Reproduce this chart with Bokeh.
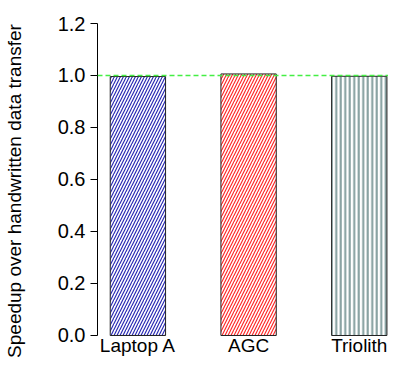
from bokeh.plotting import figure
from bokeh.models import ColumnDataSource, FixedTicker, PrintfTickFormatter, Span, Range1d
from bokeh.core.properties import value
from bokeh.embed import file_html
from bokeh.resources import INLINE

machines = ["Laptop A", "AGC", "Triolith"]
speedup = [0.996, 1.006, 0.997]
hatch_colors = ["#2a2ab4", "#ff2a2a", "#7f9b9b"]
hatch_patterns = ["/", "/", "|"]
hatch_scales = [6, 6, 4.5]
hatch_weights = [1.2, 1.2, 2.0]
y_ticks = [0.0, 0.2, 0.4, 0.6, 0.8, 1.0, 1.2]
baseline = 1.0

xpos = list(range(len(machines)))
src = ColumnDataSource(dict(x=xpos, top=speedup, hc=hatch_colors, hp=hatch_patterns,
                            hs=hatch_scales, hw=hatch_weights, name=machines,
                            zero=[0.0] * len(machines)))

p = figure(x_range=Range1d(-0.365, 2.264), y_range=Range1d(-0.0885, 1.2), width=388, height=358,
           output_backend="svg", toolbar_location=None,
           min_border_left=89, min_border_top=23, min_border_right=0, min_border_bottom=0)

p.vbar(x="x", top="top", bottom=0, width=0.5, source=src,
       fill_color="white", line_color="#222222", line_width=1,
       hatch_pattern="hp", hatch_color="hc", hatch_scale="hs", hatch_weight="hw")

p.add_layout(Span(location=baseline, dimension="width", line_color="#44ee44",
                  line_dash="5 3", line_width=1.5))

# category labels under the bars
p.text(x="x", y="zero", text="name", source=src, text_align="center", text_baseline="top",
       y_offset=0, text_font=value("Liberation Sans"), text_font_size="19px",
       text_color="black")

p.grid.visible = False
p.outline_line_color = None
p.background_fill_color = "white"
p.border_fill_color = "white"
p.xaxis.visible = False

ya = p.yaxis[0]
ya.bounds = (0, 1.2)
ya.ticker = FixedTicker(ticks=y_ticks)
ya.formatter = PrintfTickFormatter(format="%.1f")
ya.axis_label = "Speedup over handwritten data transfer"
ya.axis_label_text_font = "Liberation Sans"
ya.axis_label_text_font_style = "normal"
ya.axis_label_text_font_size = "19px"
ya.axis_label_text_color = "black"
ya.axis_label_standoff = 30
ya.major_label_text_font = "Liberation Sans"
ya.major_label_text_font_size = "20px"
ya.major_label_text_color = "black"
ya.major_label_standoff = 5
ya.major_tick_out = 7
ya.major_tick_in = 0
ya.minor_tick_out = 0
ya.minor_tick_in = 0
ya.axis_line_color = "black"
ya.major_tick_line_color = "black"

open("out.html", "w").write(file_html(p, INLINE))
